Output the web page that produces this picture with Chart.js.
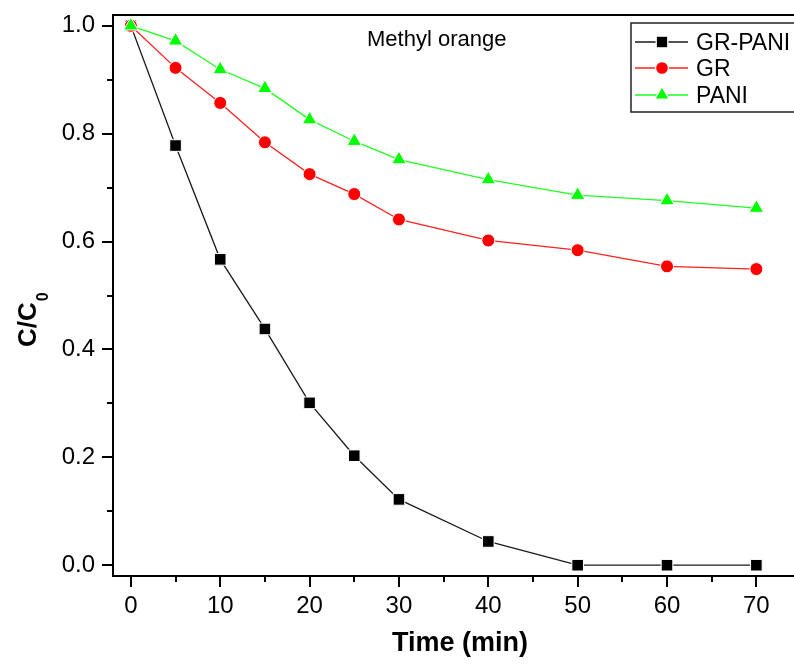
<!DOCTYPE html>
<html><head><meta charset="utf-8">
<script src="https://cdn.jsdelivr.net/npm/chart.js@4"></script>
<style>
html,body{margin:0;padding:0;overflow:hidden;background:#fff;width:794px;height:671px}
</style>
</head><body><canvas id="c" width="794" height="671" style="display:block;width:794px;height:671px"></canvas>
<script>
const times = [0, 5, 10, 15, 20, 25, 30, 40, 50, 60, 70];
const grPani = [1.0, 0.778, 0.567, 0.438, 0.301, 0.203, 0.122, 0.044, 0.0, 0.0, 0.0];
const gr = [1.0, 0.922, 0.857, 0.784, 0.725, 0.688, 0.641, 0.602, 0.584, 0.554, 0.549];
const pani = [1.0, 0.972, 0.919, 0.884, 0.826, 0.786, 0.752, 0.715, 0.686, 0.676, 0.662];
const xTicks = [0, 10, 20, 30, 40, 50, 60, 70];
const xMinorTicks = [5, 15, 25, 35, 45, 55, 65];
const yTicks = [0.0, 0.2, 0.4, 0.6, 0.8, 1.0];
const yMinorTicks = [0.1, 0.3, 0.5, 0.7, 0.9];
const seriesNames = ['GR-PANI', 'GR', 'PANI'];
const xTitle = 'Time (min)';
const yTitleMain = 'C/C';
const yTitleSub = '0';
const annotationText = 'Methyl orange';

const FONT = '"Liberation Sans", Arial, sans-serif';

function pts(ys) { return times.map((t, i) => ({x: t, y: ys[i]})); }

const decor = {
  id: 'decor',
  afterDraw(chart) {
    const ctx = chart.ctx;
    const a = chart.chartArea;
    const xs = chart.scales.x, ys = chart.scales.y;
    const W = chart.width + 10;
    ctx.save();
    // frame (right side lies beyond the picture)
    ctx.strokeStyle = '#000';
    ctx.lineWidth = 2;
    ctx.beginPath();
    ctx.moveTo(W, a.top); ctx.lineTo(a.left, a.top); ctx.lineTo(a.left, a.bottom); ctx.lineTo(W, a.bottom);
    ctx.stroke();
    // ticks
    ctx.beginPath();
    xTicks.forEach(v => { const p = Math.round(xs.getPixelForValue(v)); ctx.moveTo(p, a.bottom); ctx.lineTo(p, a.bottom + 11); });
    xMinorTicks.forEach(v => { const p = Math.round(xs.getPixelForValue(v)); ctx.moveTo(p, a.bottom); ctx.lineTo(p, a.bottom + 6); });
    yTicks.forEach(v => { const p = Math.round(ys.getPixelForValue(v)); ctx.moveTo(a.left, p); ctx.lineTo(a.left - 11, p); });
    yMinorTicks.forEach(v => { const p = Math.round(ys.getPixelForValue(v)); ctx.moveTo(a.left, p); ctx.lineTo(a.left - 6, p); });
    ctx.stroke();
    // x title
    ctx.fillStyle = '#000';
    ctx.font = 'bold 27px ' + FONT;
    ctx.textAlign = 'center';
    ctx.textBaseline = 'alphabetic';
    ctx.fillText(xTitle, 460, 651);
    // y title
    ctx.save();
    ctx.translate(36, 347);
    ctx.rotate(-Math.PI / 2);
    ctx.textAlign = 'left';
    ctx.font = 'bold 26px ' + FONT;
    ctx.fillText(yTitleMain, 0, 0);
    const w = ctx.measureText(yTitleMain).width;
    ctx.font = 'bold 16px ' + FONT;
    ctx.fillText(yTitleSub, w + 1, 12);
    ctx.restore();
    // annotation
    ctx.font = '22px ' + FONT;
    ctx.textAlign = 'left';
    ctx.fillText(annotationText, 367, 46);
    // legend (box continues past the right edge)
    ctx.fillStyle = '#fff';
    ctx.fillRect(631, 23, 200, 89);
    ctx.strokeStyle = '#222';
    ctx.lineWidth = 1.5;
    ctx.strokeRect(631, 23, 200, 89);
    const rows = [42, 68, 95];
    chart.data.datasets.forEach((ds, i) => {
      const y = rows[i];
      ctx.strokeStyle = ds.borderColor;
      ctx.lineWidth = ds.borderWidth;
      ctx.beginPath(); ctx.moveTo(635, y); ctx.lineTo(688, y); ctx.stroke();
      ctx.fillStyle = ds.pointBackgroundColor;
      ctx.strokeStyle = '#fff';
      Chart.helpers.drawPoint(ctx, {pointStyle: ds.pointStyle, radius: ds.pointRadius, borderWidth: 1}, 662, y);
      ctx.fillStyle = '#000';
      ctx.font = '23px ' + FONT;
      ctx.textAlign = 'left';
      ctx.textBaseline = 'alphabetic';
      ctx.fillText(ds.label, 696, y + 8);
    });
    ctx.restore();
  }
};

new Chart(document.getElementById('c'), {
  type: 'line',
  data: {
    datasets: [
      {label: seriesNames[0], data: pts(grPani), borderColor: '#1a1a1a', borderWidth: 1.3, pointStyle: 'rect', pointRadius: 8.2, pointBackgroundColor: '#000', pointBorderColor: '#fff', pointBorderWidth: 1, order: 3},
      {label: seriesNames[1], data: pts(gr), borderColor: '#ff2020', borderWidth: 1.3, pointStyle: 'circle', pointRadius: 6.5, pointBackgroundColor: '#ff0000', pointBorderColor: '#fff', pointBorderWidth: 1, order: 2},
      {label: seriesNames[2], data: pts(pani), borderColor: '#20ff20', borderWidth: 1.3, pointStyle: 'triangle', pointRadius: 8.4, pointBackgroundColor: '#00ff00', pointBorderColor: '#fff', pointBorderWidth: 1, order: 1}
    ]
  },
  options: {
    responsive: false,
    animation: false,
    devicePixelRatio: 1,
    layout: {padding: {top: 15, right: 0, left: 0, bottom: 0}},
    plugins: {legend: {display: false}, tooltip: {enabled: false}},
    elements: {line: {tension: 0}},
    scales: {
      x: {
        type: 'linear', min: -2, max: 73.16,
        afterBuildTicks(s) { s.ticks = xTicks.map(v => ({value: v})); },
        afterFit(s) { s.height = 95; s.paddingLeft = 0; s.paddingRight = 0; s.paddingTop = 0; s.paddingBottom = 0; },
        grid: {display: false, drawTicks: false},
        border: {display: false},
        ticks: {padding: 16, color: '#000', font: {family: FONT, size: 24}, maxRotation: 0, autoSkip: false, callback: v => String(v)}
      },
      y: {
        type: 'linear', min: -0.02, max: 1.02,
        afterBuildTicks(s) { s.ticks = yTicks.map(v => ({value: v})); },
        afterFit(s) { s.width = 113; s.paddingLeft = 0; s.paddingRight = 0; s.paddingTop = 0; s.paddingBottom = 0; },
        grid: {display: false, drawTicks: false},
        border: {display: false},
        ticks: {padding: 18, color: '#000', font: {family: FONT, size: 24}, autoSkip: false, callback: v => v.toFixed(1)}
      }
    }
  },
  plugins: [decor]
});
</script>
</body></html>
